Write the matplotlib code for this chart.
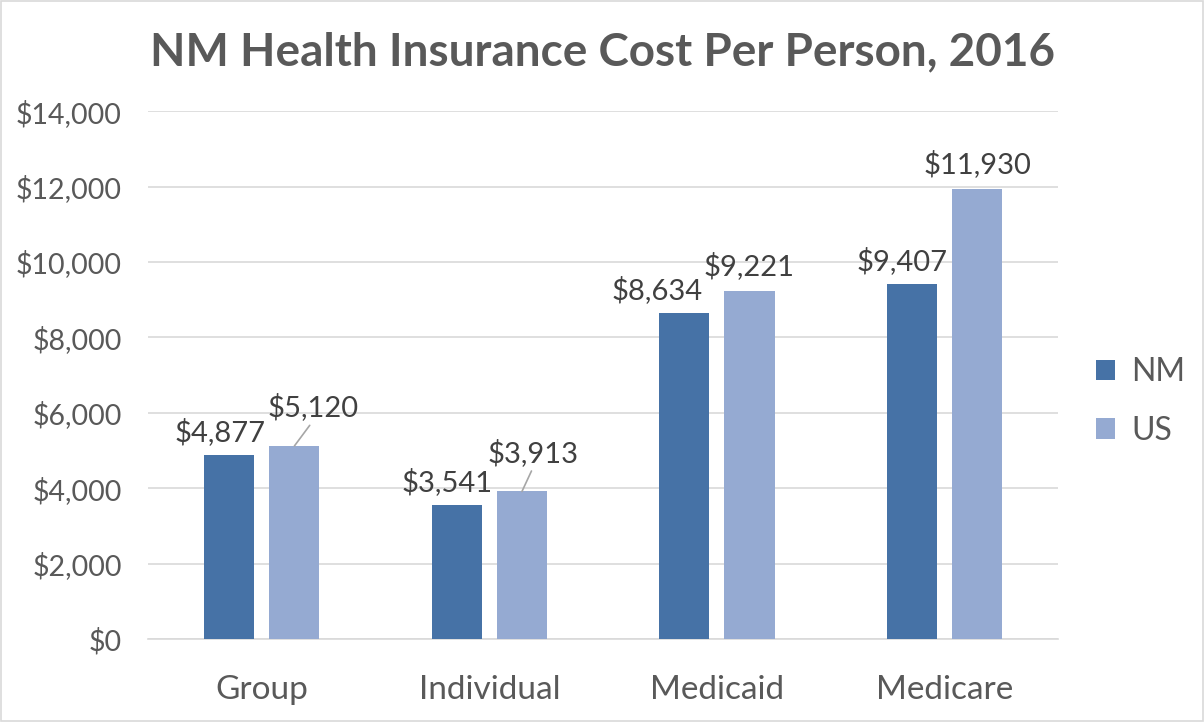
import matplotlib.pyplot as plt
import numpy as np
from matplotlib.ticker import FuncFormatter

categories = ["Group", "Individual", "Medicaid", "Medicare"]
nm_values = [4877, 3541, 8634, 9407]
us_values = [5120, 3913, 9221, 11930]
series_names = ["NM", "US"]

NM_COLOR = "#4672A6"
US_COLOR = "#95AAD2"
TEXT_DARK = "#404040"
TEXT_GRAY = "#595959"
GRID = "#D9D9D9"

plt.rcParams["font.family"] = ["Lato", "DejaVu Sans"]


def money(v, _pos=None):
    return f"${v:,.0f}"


fig = plt.figure(figsize=(12.04, 7.22), dpi=100)
ax = fig.add_axes([0.123, 0.115, 0.756, 0.731])

x = np.arange(len(categories))
width = 0.22
offset = 0.143

bars_nm = ax.bar(x - offset, nm_values, width, color=NM_COLOR, label=series_names[0], zorder=3)
bars_us = ax.bar(x + offset, us_values, width, color=US_COLOR, label=series_names[1], zorder=3)

ax.set_xlim(-0.5, len(categories) - 0.5)
ax.set_ylim(0, 14000)
ax.set_yticks(np.arange(0, 14001, 2000))
ax.yaxis.set_major_formatter(FuncFormatter(money))
ax.set_xticks(x)
ax.set_xticklabels(categories)
ax.tick_params(axis="both", length=0, colors=TEXT_GRAY)
ax.tick_params(axis="y", labelsize=20.5, pad=19)
ax.tick_params(axis="x", labelsize=24, pad=26)
ax.grid(axis="y", color=GRID, linewidth=1.2, zorder=0)
for side in ["top", "right", "left"]:
    ax.spines[side].set_visible(False)
ax.spines["bottom"].set_color(GRID)
ax.spines["bottom"].set_linewidth(1.2)

# NM labels sit a little left of their bars (Excel nudged them apart)
nm_shift = [-0.04, -0.045, -0.12, -0.045]
for bar, v, s in zip(bars_nm, nm_values, nm_shift):
    ax.text(bar.get_x() + bar.get_width() / 2 + s, v + 250, money(v),
            ha="center", va="bottom", fontsize=21, color=TEXT_DARK)

# two US labels were moved up off their bars with leader lines
moved = {0: (0.08, 650), 1: (0.05, 650)}
for i, (bar, v) in enumerate(zip(bars_us, us_values)):
    cx = bar.get_x() + bar.get_width() / 2
    if i in moved:
        dx, dy = moved[i]
        ax.annotate(money(v), xy=(cx, v), xytext=(cx + dx, v + dy),
                    ha="center", va="bottom", fontsize=21, color=TEXT_DARK,
                    arrowprops=dict(arrowstyle="-", color="#A6A6A6", lw=1.2,
                                    shrinkA=1, shrinkB=0,
                                    relpos=(0.5, 0.0)))
    else:
        ax.text(cx, v + 300, money(v), ha="center", va="bottom",
                fontsize=21, color=TEXT_DARK)

leg = ax.legend(loc="center left", bbox_to_anchor=(1.01, 0.45), frameon=False,
                fontsize=23, handlelength=0.6, handleheight=0.6,
                handletextpad=0.5, labelspacing=0.9)
for t in leg.get_texts():
    t.set_color(TEXT_GRAY)

fig.suptitle("NM Health Insurance Cost Per Person, 2016", x=0.5, y=0.957,
             fontsize=33, fontweight="bold", color=TEXT_GRAY)

fig.patches.append(plt.Rectangle((0.001, 0.001), 0.998, 0.998, transform=fig.transFigure,
                                 fill=False, edgecolor=GRID, linewidth=1.2))

fig.savefig("out.png", dpi=100)
